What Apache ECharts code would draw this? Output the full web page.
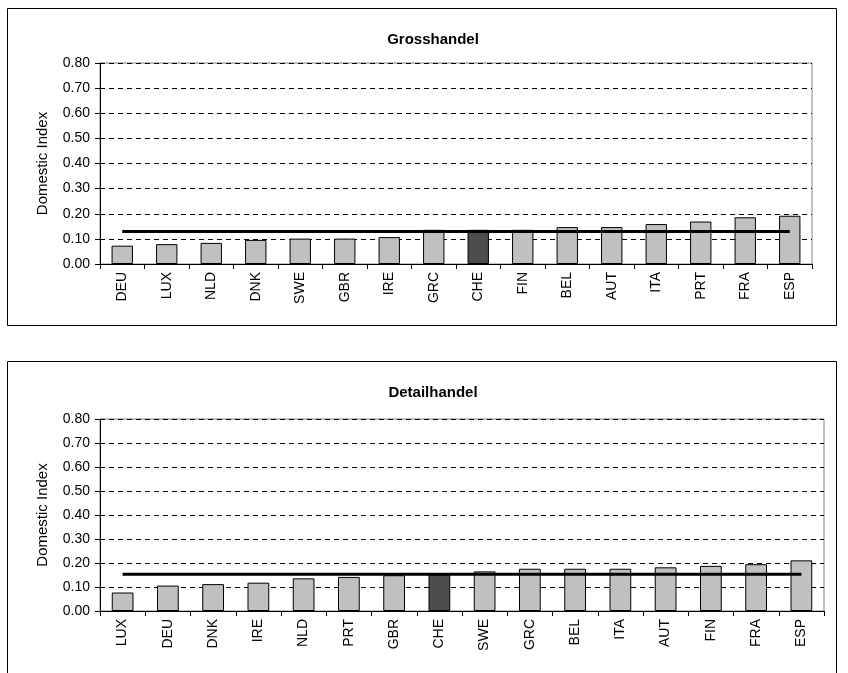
<!DOCTYPE html>
<html>
<head>
<meta charset="utf-8">
<title>Domestic Index – Grosshandel / Detailhandel</title>
<script src="https://cdn.jsdelivr.net/npm/echarts@6/dist/echarts.min.js"></script>
<style>
  html, body { margin: 0; padding: 0; background: #ffffff; }
  #chart { width: 848px; height: 673px; }
</style>
</head>
<body>
<div id="chart"></div>
<script>
// Wholesale (Grosshandel)
const grossCountries = ['DEU', 'LUX', 'NLD', 'DNK', 'SWE', 'GBR', 'IRE', 'GRC', 'CHE', 'FIN', 'BEL', 'AUT', 'ITA', 'PRT', 'FRA', 'ESP'];
const grossValues = [0.073, 0.079, 0.084, 0.096, 0.101, 0.101, 0.107, 0.136, 0.136, 0.136, 0.147, 0.147, 0.159, 0.169, 0.186, 0.192];
const grossAverage = 0.129;

// Retail (Detailhandel)
const detailCountries = ['LUX', 'DEU', 'DNK', 'IRE', 'NLD', 'PRT', 'GBR', 'CHE', 'SWE', 'GRC', 'BEL', 'ITA', 'AUT', 'FIN', 'FRA', 'ESP'];
const detailValues = [0.077, 0.106, 0.112, 0.118, 0.136, 0.142, 0.149, 0.152, 0.165, 0.176, 0.176, 0.176, 0.182, 0.188, 0.195, 0.211];
const detailAverage = 0.153;

// Value axis ticks
const yTicks = [0.0, 0.1, 0.2, 0.3, 0.4, 0.5, 0.6, 0.7, 0.8];

const FONT = 'Liberation Sans, Arial, sans-serif';
const highlight = 'CHE';

function barData(cats, vals) {
  return vals.map((v, i) => ({
    value: v,
    itemStyle: { color: cats[i] === highlight ? '#4d4d4d' : '#c0c0c0' }
  }));
}

function xAxisFor(gridIndex, cats) {
  return {
    type: 'category',
    gridIndex: gridIndex,
    data: cats,
    boundaryGap: true,
    axisLine: { show: true, lineStyle: { color: '#000000', width: 1 } },
    axisTick: { show: true, inside: false, length: 5, lineStyle: { color: '#000000' } },
    axisLabel: {
      rotate: 90, margin: 8, color: '#000000',
      fontFamily: FONT, fontSize: 14, interval: 0
    },
    splitLine: { show: false }
  };
}

function yAxisFor(gridIndex) {
  return {
    type: 'value',
    gridIndex: gridIndex,
    min: yTicks[0],
    max: yTicks[yTicks.length - 1],
    interval: yTicks[1] - yTicks[0],
    name: 'Domestic Index',
    nameLocation: 'middle',
    nameGap: 50,
    nameTextStyle: { color: '#000000', fontFamily: FONT, fontSize: 15 },
    axisLine: { show: true, lineStyle: { color: '#000000', width: 1 } },
    axisTick: { show: true, inside: false, length: 5, lineStyle: { color: '#000000' } },
    axisLabel: {
      color: '#000000', fontFamily: FONT, fontSize: 14, margin: 10,
      formatter: v => v.toFixed(2)
    },
    splitLine: { show: true, lineStyle: { color: '#000000', width: 1, type: [5, 4] } }
  };
}

function barSeries(idx, cats, vals) {
  return {
    type: 'bar',
    xAxisIndex: idx, yAxisIndex: idx,
    data: barData(cats, vals),
    barWidth: '48%',
    itemStyle: { borderColor: '#000000', borderWidth: 1 },
    z: 2
  };
}

function averageSeries(idx, cats, avg) {
  return {
    type: 'line',
    xAxisIndex: idx, yAxisIndex: idx,
    data: cats.map(() => avg),
    symbol: 'none',
    lineStyle: { color: '#000000', width: 3 },
    z: 3
  };
}

const chart = echarts.init(document.getElementById('chart'), null, { renderer: 'canvas' });

chart.setOption({
  animation: false,
  backgroundColor: '#ffffff',
  title: [
    {
      text: 'Grosshandel', left: 428, top: 27, textAlign: 'center',
      textStyle: { fontFamily: FONT, fontSize: 15, fontWeight: 'bold', color: '#000000' }
    },
    {
      text: 'Detailhandel', left: 428, top: 380, textAlign: 'center',
      textStyle: { fontFamily: FONT, fontSize: 15, fontWeight: 'bold', color: '#000000' }
    }
  ],
  graphic: [
    {
      type: 'rect', silent: true,
      shape: { x: 7.5, y: 8.5, width: 829, height: 317 },
      style: { fill: 'none', stroke: '#000000', lineWidth: 1 }
    },
    {
      type: 'rect', silent: true,
      shape: { x: 7.5, y: 361.5, width: 829, height: 330 },
      style: { fill: 'none', stroke: '#000000', lineWidth: 1 }
    }
  ],
  grid: [
    { left: 100, top: 63, width: 712, height: 201, show: true, borderColor: '#808080', borderWidth: 1, backgroundColor: 'transparent' },
    { left: 100, top: 419, width: 724, height: 192, show: true, borderColor: '#808080', borderWidth: 1, backgroundColor: 'transparent' }
  ],
  xAxis: [xAxisFor(0, grossCountries), xAxisFor(1, detailCountries)],
  yAxis: [yAxisFor(0), yAxisFor(1)],
  series: [
    barSeries(0, grossCountries, grossValues),
    averageSeries(0, grossCountries, grossAverage),
    barSeries(1, detailCountries, detailValues),
    averageSeries(1, detailCountries, detailAverage)
  ]
});
</script>
</body>
</html>
